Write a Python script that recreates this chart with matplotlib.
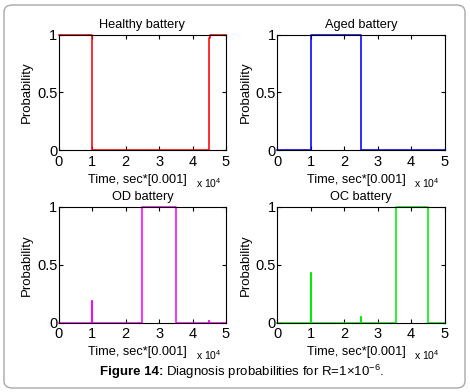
import matplotlib
matplotlib.use("Agg")
import matplotlib.pyplot as plt
from matplotlib.patches import FancyBboxPatch
from matplotlib.ticker import FuncFormatter

plt.rcParams['font.family'] = ['Liberation Sans', 'DejaVu Sans']
plt.rcParams['mathtext.fontset'] = 'custom'
plt.rcParams['mathtext.rm'] = 'Liberation Sans'
plt.rcParams['mathtext.it'] = 'Liberation Sans:italic'
plt.rcParams['mathtext.bf'] = 'Liberation Sans:bold'

# ---- data (time in sec*[0.001], probability) ----
titles = ["Healthy battery", "Aged battery", "OD battery", "OC battery"]
colors = ["#ff0000", "#0000ff", "#ff00ff", "#00ee00"]

t_healthy = [0, 9900, 44800, 45100, 50000]
p_healthy = [1, 0, 0.97, 1, 1]

t_aged = [0, 9950, 25000, 50000]
p_aged = [0, 1, 0, 0]

t_od = [0, 9850, 9950, 24950, 35100, 44850, 44950, 50000]
p_od = [0, 0.19, 0, 1, 0, 0.015, 0, 0]

t_oc = [0, 9950, 10050, 25000, 25100, 35550, 45000, 50000]
p_oc = [0, 0.43, 0, 0.05, 0, 1, 0, 0]

series = [(t_healthy, p_healthy), (t_aged, p_aged), (t_od, p_od), (t_oc, p_oc)]

x_ticks = [0, 10000, 20000, 30000, 40000, 50000]
y_ticks = [0, 0.5, 1]
y_ticklabels = ["0", "0.5", "1"]
xlabel = "Time, sec*[0.001]"
ylabel = "Probability"

W, H = 470, 392
fig = plt.figure(figsize=(W / 100, H / 100), dpi=100)

# rounded frame
frame = FancyBboxPatch((4 / W, 4 / H), 461 / W, 383 / H,
                       boxstyle="round,pad=0,rounding_size=0.018",
                       transform=fig.transFigure, facecolor="white",
                       edgecolor="#a8a8a8", linewidth=1.0, zorder=-10)
fig.patches.append(frame)

lefts = [58.7, 277.3, 58.7, 277.3]
tops = [34.7, 34.7, 207.0, 207.0]
aw, ah = 167.3, 115.5

for i, (t, p) in enumerate(series):
    l, tp = lefts[i], tops[i]
    ax = fig.add_axes([l / W, 1 - (tp + ah) / H, aw / W, ah / H])
    ax.step(t, p, where='post', color=colors[i], linewidth=1.15,
            clip_on=False, zorder=2)
    ax.set_xlim(0, 50000)
    ax.set_ylim(0, 1)
    ax.set_xticks(x_ticks)
    ax.xaxis.set_major_formatter(FuncFormatter(lambda v, pos: f"{v / 1e4:g}"))
    ax.set_yticks(y_ticks)
    ax.set_yticklabels(y_ticklabels)
    ax.tick_params(direction='in', top=True, right=True, length=3,
                   width=0.8, labelsize=10.5)
    ax.tick_params(axis='x', pad=3.5)
    ax.tick_params(axis='y', pad=1)
    for s in ax.spines.values():
        s.set_linewidth(0.8)
        s.set_zorder(3)
    ax.set_title(titles[i], fontsize=9.2, pad=5)
    ax.set_xlabel(xlabel, fontsize=9.2, labelpad=0)
    ax.set_ylabel(ylabel, fontsize=9.5, labelpad=1)
    ax.yaxis.set_label_coords(-0.152, 0.5)
    ax.xaxis.set_label_coords(0.47, -0.205)
    ax.text(0.82, -0.285, r"x 10$^{4}$", transform=ax.transAxes,
            fontsize=7.5, ha='left', va='center')

# caption
renderer = fig.canvas.get_renderer()
t1 = fig.text(100 / W, 1 - 372 / H, "Figure 14:", fontsize=9.5,
              fontweight='bold', ha='left', va='center')
bb = t1.get_window_extent(renderer)
x2 = (bb.x1 + 3) / W
fig.text(x2, 1 - 372 / H, r"Diagnosis probabilities for R=1×10$^{-6}$.",
         fontsize=9.5, ha='left', va='center')

fig.savefig("out.png", dpi=100)
